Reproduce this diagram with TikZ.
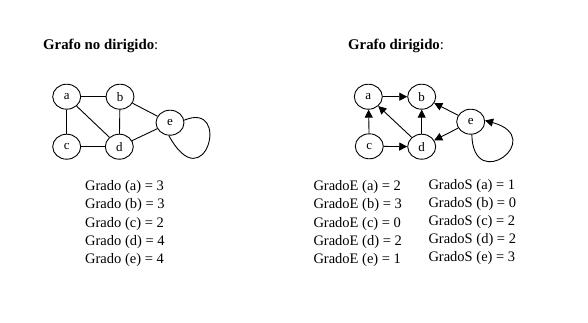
\documentclass[tikz,border=0pt]{standalone}
\usepackage{fontspec}
\setmainfont{Liberation Serif}
\usetikzlibrary{shapes.geometric,arrows.meta}
\begin{document}
\begin{tikzpicture}[x=1pt,y=-1pt,
  vtx/.style={draw,ellipse,line width=0.9pt,minimum width=28pt,minimum height=25pt,inner sep=0pt,
    font=\fontsize{13}{15}\selectfont},
  edge/.style={line width=0.9pt},
  arr/.style={line width=0.9pt,-{Triangle[length=8pt,width=8pt]}},
  txt/.style={anchor=base west,inner sep=0pt,font=\fontsize{14.5}{17}\selectfont},
  ttl/.style={anchor=base west,inner sep=0pt,font=\fontsize{14.8}{17}\selectfont}]
\useasboundingbox[fill=white] (0,0) rectangle (588,322);

% titles
\node[ttl] (t1) at (43,49) {\textbf{Grafo no dirigido}:};
\node[ttl] (t2) at (348,49) {\textbf{Grafo dirigido}:};

% undirected graph
\node[vtx] (a) at (66.7,96.7) {a};
\node[vtx] (b) at (120,96.7) {b};
\node[vtx] (c) at (66.7,146.7) {c};
\node[vtx] (d) at (119.3,146.7) {d};
\node[vtx] (e) at (170,122.7) {e};
\draw[edge] (a) -- (b);
\draw[edge] (a) -- (c);
\draw[edge] (a) -- (d);
\draw[edge] (b) -- (d);
\draw[edge] (c) -- (d);
\draw[edge] (b) -- (e);
\draw[edge] (d) -- (e);
\draw[edge] (e.10) .. controls (232,100) and (205,202) .. (e.-95);

% directed graph
\node[vtx] (A) at (368.3,96.7) {a};
\node[vtx] (B) at (421.7,96.7) {b};
\node[vtx] (C) at (369.3,146.3) {c};
\node[vtx] (D) at (421.7,146.7) {d};
\node[vtx] (E) at (470.7,121.7) {e};
\draw[arr] (A) -- (B);
\draw[arr] (C) -- (A);
\draw[arr] (C) -- (D);
\draw[arr] (D) -- (A);
\draw[arr] (D) -- (B);
\draw[arr] (E) -- (B);
\draw[arr] (E) -- (D);
\draw[arr] (E.-85) .. controls (473,195) and (548,138) .. (E.5);

% degree lists
\foreach \l/\v [count=\i from 0] in {a/3,b/3,c/2,d/4,e/4}
  \node[txt] (g\l) at (85,190.7+18.2*\i) {Grado (\l) = \v};
\foreach \l/\v [count=\i from 0] in {a/2,b/3,c/0,d/2,e/1}
  \node[txt] (ge\l) at (313.3,190.7+18.2*\i) {GradoE (\l) = \v};
\foreach \l/\v [count=\i from 0] in {a/1,b/0,c/2,d/2,e/3}
  \node[txt] (gs\l) at (428.3,189+18.2*\i) {GradoS (\l) = \v};
\end{tikzpicture}
\end{document}
